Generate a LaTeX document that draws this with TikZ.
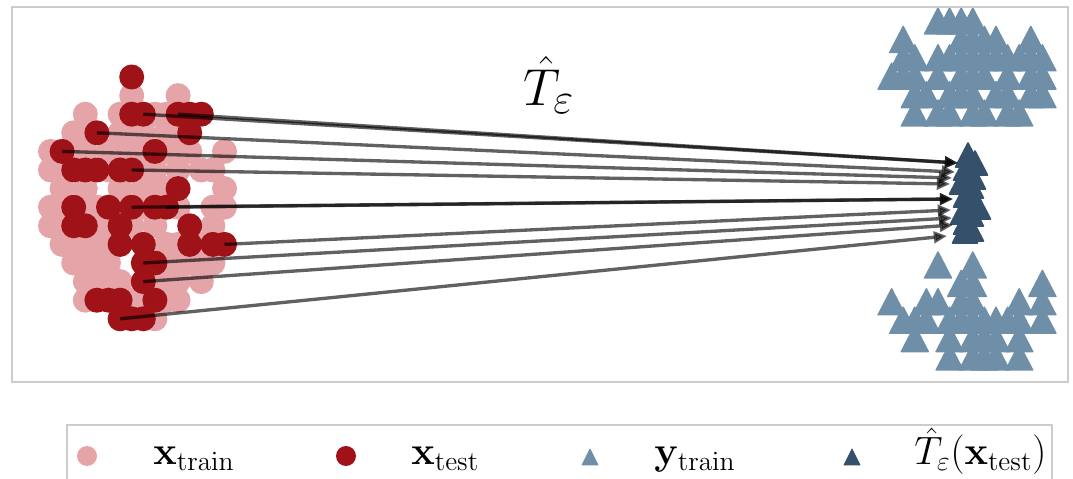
\documentclass[tikz,border=0pt]{standalone}
\usepackage{amsmath,amssymb}
\usetikzlibrary{arrows.meta}
\definecolor{xtrain}{RGB}{229,165,168}
\definecolor{xtest}{RGB}{158,18,24}
\definecolor{ytrain}{RGB}{111,143,168}
\definecolor{tpred}{RGB}{52,80,107}
\definecolor{framegray}{RGB}{204,204,204}
\newcommand\mytri[3]{\filldraw[#3,line width=0.8pt,line join=round] ({#1},{#2}) ++(0,-13) -- ++(13.5,26) -- ++(-27,0) -- cycle;}
\newcommand\mypred[3]{\filldraw[#3,line width=0.9pt,line join=round] ({#1},{#2}) ++(0,-12) -- ++(12.5,24) -- ++(-25,0) -- cycle;}
\newcommand\mycirc[3]{\fill[#3] ({#1},{#2}) circle[radius=0.25cm];}
\newcommand\legscale[1]{\scalebox{1.085}{#1}}
\tikzset{
  arr/.style={draw=black, draw opacity=0.62, fill opacity=0.62, line width=1.9pt,
    -{Triangle[length=7.5pt,width=6.5pt]}},
  frame/.style={draw=framegray, line width=0.7pt},
  legtext/.style={anchor=base west, inner sep=0pt, font=\fontsize{20.74}{25}\selectfont},
}
\begin{document}
\begin{tikzpicture}[x=0.02cm,y=-0.02cm]
\useasboundingbox (0,0) rectangle (1073,479);
% x_train
\foreach \r/\cs in {1/{7,11}, 2/{3,6,9,10}, 3/{2,3,6,7,8,10,11}, 4/{0,2,3,5,6,7,8,10,11,12,15},
  5/{0,1,5,8,9,11,13,14}, 6/{1,3,6,8,9,10,15}, 7/{0,1,3,4,6,8,11,14,15}, 8/{0,1,4,5,7,9,14},
  9/{1,2,3,4,5,10,11,13}, 10/{2,3,4,5,10,11,12,13,14}, 11/{3,4,5,6,9,10,11,13}, 12/{3,7,8,10,11}, 13/{9}}
  {\foreach \c in \cs {\mycirc{50.5+11.6*(\c)}{77+18.6*(\r)}{xtrain}}}
% x_test
\foreach \r/\cs in {0/{7}, 2/{7,8,11,12,13}, 3/{4,12}, 4/{1,9}, 5/{2,3,4,6,7}, 6/{11},
  7/{2,5,7,9,10}, 8/{2,3,6,12}, 9/{6,8,12,14,15}, 10/{8,9}, 11/{8}, 12/{4,5,6,9}, 13/{6,7,8}}
  {\foreach \c in \cs {\mycirc{50.5+11.6*(\c)}{77+18.6*(\r)}{xtest}}}
% y_train upper cluster
\foreach \r/\ks in {0/{0,1,2,3}, 1/{-3,2,3,4,5,8}, 2/{-3,-2,0,1,2,3,4,5,6,7,8,9},
  3/{-4,-3,-2,0,2,3,4,6,8,9}, 4/{-2,-1,1,2,3,5,6,8,9}, 5/{-2,0,1,3,4,6,7}}
  {\foreach \k in \ks {\mytri{938+11.6*(\k)}{21+18.4*(\r)}{ytrain}}}
% y_train lower cluster
\foreach \r/\ks in {0/{0,3}, 1/{2,3,9}, 2/{-4,-1,0,2,3,7,9},
  3/{-3,-2,-1,1,2,3,4,5,6,7,9}, 4/{-2,1,3,4,5,7}, 5/{1,3,4,5,7}}
  {\foreach \k in \ks {\mytri{938+11.6*(\k)}{265+18.4*(\r)}{ytrain}}}
% main frame
\draw[frame] (12,7) rectangle (1068,382);
% predictions
\foreach \px/\py in {968/155, 975/163, 966/168, 973/177, 962/182, 971/186, 966/195, 968/203,
  978/207, 963/212, 971/214, 966/222, 971/229, 965/231}
  {\mypred{\px}{\py}{tpred}}
% arrow coordinates
\coordinate (s1) at (143.3,114.2);
\coordinate (s2) at (178.1,114.2);
\coordinate (s3) at (96.9,132.8);
\coordinate (s4) at (62.1,151.4);
\coordinate (s5) at (131.7,170);
\coordinate (s6) at (131.7,207.2);
\coordinate (s7) at (166.5,207.2);
\coordinate (s8) at (224.5,244.4);
\coordinate (s9) at (143.3,263);
\coordinate (s10) at (143.3,281.6);
\coordinate (s11) at (120.1,318.8);
\coordinate (e1) at (958,163);
\coordinate (e2) at (958,163);
\coordinate (e3) at (955,172);
\coordinate (e4) at (952,178);
\coordinate (e5) at (950,184);
\coordinate (e6) at (953,199);
\coordinate (e7) at (953,199);
\coordinate (e8) at (951,210);
\coordinate (e9) at (952,218);
\coordinate (e10) at (953,225);
\coordinate (e11) at (947,236);
\foreach \i in {1,...,11} {\draw[arr] (s\i) -- (e\i);}
% title
\node[anchor=base, inner sep=0pt, font=\fontsize{24.88}{30}\selectfont] (title) at (549,106) {\scalebox{1.19}{$\hat{T}_{\varepsilon}$}};
% legend
\draw[frame] (67,485) -- (67,425) -- (1052,425) -- (1052,485);
\fill[xtrain] (87,456) circle[radius=0.2cm];
\node[legtext] (lxtrain) at (153,465) {\legscale{$\mathbf{x}_{\mathrm{train}}$}};
\fill[xtest] (346,456) circle[radius=0.2cm];
\node[legtext] (lxtest) at (411,465) {\legscale{$\mathbf{x}_{\mathrm{test}}$}};
\filldraw[ytrain,line width=0.5pt,line join=round] (590,449) -- (598,465) -- (582,465) -- cycle;
\node[legtext] (lytrain) at (654,465) {\legscale{$\mathbf{y}_{\mathrm{train}}$}};
\filldraw[tpred,line width=0.5pt,line join=round] (852,449) -- (860,465) -- (844,465) -- cycle;
\node[legtext] (lpred) at (914,465) {\legscale{$\hat{T}_{\varepsilon}(\mathbf{x}_{\mathrm{test}})$}};
\end{tikzpicture}
\end{document}
